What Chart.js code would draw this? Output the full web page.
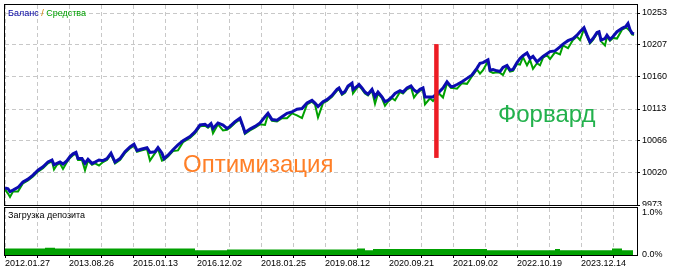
<!DOCTYPE html>
<html>
<head>
<meta charset="utf-8">
<script src="https://cdn.jsdelivr.net/npm/chart.js@4.4.1/dist/chart.umd.min.js"></script>
<style>
  body { margin: 0; background: #fff; }
  #wrap { position: relative; width: 682px; height: 272px; overflow: hidden; background: #fff; }
  canvas { position: absolute; left: 0; }
  #balanceChart { top: 0; }
  #loadChart { top: 205px; }
</style>
</head>
<body>
<div id="wrap">
  <canvas id="balanceChart" width="682" height="206"></canvas>
  <canvas id="loadChart" width="682" height="67"></canvas>
</div>
<script>
// trade number -> balance / equity
const trades = [0,3,5,8,13,18,23,28,33,38,
  43,47,49,52,55,58,62,65,68,71,
  73,77,80,83,87,90,94,98,102,106,
  110,115,120,125,129,132,137,142,145,150,
  153,157,159,163,168,173,178,185,190,195,
  200,203,206,208,213,218,222,225,230,235,
  238,240,245,250,255,260,263,267,272,277,
  282,287,292,297,302,307,310,313,318,322,
  327,332,334,337,340,343,347,348,352,354,
  357,360,363,367,370,373,377,380,383,387,
  390,395,398,402,406,409,412,415,418,420,
  425,428,434,438,442,446,448,452,457,462,
  467,472,475,478,483,485,488,492,495,498,
  502,505,508,512,515,518,522,525,528,532,
  535,538,542,545,550,555,558,563,568,572,
  575,579,582,585,588,592,594,596,600,602,
  605,608,612,617,621,623,625,627,629]

const balance = [9998,9997,9993,9995,9999,10007,10011,10017,10024,10029,
  10036,10039,10032,10034,10036,10033,10038,10044,10048,10050,
  10041,10041,10034,10040,10034,10036,10039,10038,10041,10049,
  10036,10041,10051,10058,10062,10053,10055,10057,10050,10051,
  10057,10049,10041,10046,10054,10061,10067,10073,10080,10090,
  10091,10088,10092,10085,10093,10090,10085,10088,10095,10100,
  10088,10079,10084,10088,10093,10102,10107,10098,10097,10102,
  10107,10109,10113,10114,10122,10126,10122,10117,10124,10127,
  10133,10142,10144,10136,10139,10147,10151,10142,10146,10149,
  10144,10138,10135,10142,10131,10138,10131,10124,10126,10131,
  10136,10140,10138,10144,10147,10141,10138,10142,10144,10131,
  10131,10131,10138,10144,10153,10146,10146,10149,10153,10158,
  10163,10173,10180,10181,10185,10170,10171,10169,10168,10174,
  10177,10170,10171,10181,10187,10191,10195,10187,10190,10182,
  10186,10190,10194,10197,10198,10204,10208,10213,10216,10221,
  10226,10232,10221,10211,10216,10225,10226,10214,10216,10221,
  10215,10219,10226,10231,10234,10238,10229,10224,10223]

const equity = [9996,9990,9985,9993,9993,10005,10009,10015,10022,10027,
  10034,10037,10025,10032,10034,10026,10036,10042,10046,10048,
  10039,10039,10024,10038,10032,10034,10031,10036,10039,10047,
  10034,10039,10049,10056,10060,10051,10053,10055,10038,10049,
  10055,10038,10039,10044,10052,10053,10065,10071,10078,10088,
  10089,10086,10090,10078,10091,10082,10083,10086,10093,10098,
  10086,10077,10082,10086,10091,10090,10105,10096,10095,10100,
  10100,10107,10104,10100,10120,10124,10120,10101,10122,10125,
  10131,10140,10142,10134,10137,10145,10149,10136,10144,10147,
  10142,10136,10133,10140,10121,10136,10129,10118,10124,10129,
  10126,10138,10136,10142,10145,10130,10136,10140,10142,10120,
  10129,10125,10136,10130,10151,10144,10144,10143,10151,10150,
  10161,10171,10165,10170,10183,10168,10166,10167,10166,10163,
  10175,10168,10169,10179,10178,10189,10177,10185,10172,10180,
  10177,10188,10192,10186,10196,10193,10206,10202,10214,10219,
  10214,10230,10219,10209,10214,10223,10224,10212,10206,10219,
  10213,10217,10216,10229,10232,10230,10227,10222,10221]

// deposit load, % (value holds from that trade on)
const loadTrades = [0,40,50,190,222,352,360,368,482,550,555,607,617,628]
const loadValues = [0.156,0.17,0.156,0.116,0.133,0.156,0.116,0.14,0.116,0.14,0.116,0.156,0.116,0.116]

// optimisation / forward split marker
const splitTrades = [431.4, 431.4]
const splitValues = [10042, 10208]

const yTickValues = [9973.33, 10020, 10066.67, 10113.33, 10160, 10206.67, 10253.33]
const yTickLabels = ['9973', '10020', '10066', '10113', '10160', '10207', '10253']
const xTickLabels = ['2012.01.27', '2013.08.26', '2015.01.13', '2016.12.02', '2018.01.25',
  '2019.08.12', '2020.09.21', '2021.09.02', '2022.10.19', '2023.12.14']
const loadTickValues = [0, 1]
const loadTickLabels = ['0.0%', '1.0%']

const FONT = "'Liberation Sans', Arial, sans-serif"
Chart.defaults.font.family = FONT
Chart.defaults.font.size = 9
Chart.defaults.color = '#000'
Chart.defaults.animation = false

const toPoints = (xs, ys) => xs.map((x, i) => ({x, y: ys[i]}))

const gridColor = '#c8c8c8'
const gridDash = [4, 3]

const frame = {
    id: 'frame',
    afterDraw (chart) {
        const {ctx, chartArea: {left, top, right, bottom}} = chart
        ctx.save()
        ctx.strokeStyle = '#000'
        ctx.lineWidth = 1
        ctx.strokeRect(left - 0.5, top - 0.5, right - left + 1, bottom - top + 1)
        ctx.restore()
    }
}

const captions = {
    id: 'captions',
    afterDraw (chart) {
        const {ctx, scales: {x, y}} = chart
        ctx.save()
        ctx.font = `9px ${FONT}`
        ctx.textBaseline = 'middle'
        let px = 8
        for (const [txt, col] of [['Баланс', '#0000a0'], [' / ', '#d08000'], ['Средства', '#00a000']]) {
            ctx.fillStyle = col
            ctx.fillText(txt, px, 13.5)
            px += ctx.measureText(txt).width
        }
        ctx.font = `24px ${FONT}`
        ctx.textBaseline = 'alphabetic'
        ctx.fillStyle = '#ff7f27'
        ctx.fillText('Оптимизация', x.getPixelForValue(178), y.getPixelForValue(10021.5))
        ctx.fillStyle = '#22b14c'
        ctx.fillText('Форвард', x.getPixelForValue(493), y.getPixelForValue(10094.8))
        ctx.restore()
    }
}

const loadCaption = {
    id: 'loadCaption',
    afterDraw (chart) {
        const {ctx} = chart
        ctx.save()
        ctx.font = `9px ${FONT}`
        ctx.textBaseline = 'middle'
        ctx.fillStyle = '#000'
        ctx.fillText('Загрузка депозита', 8, 10.5)
        ctx.restore()
    }
}

new Chart(document.getElementById('balanceChart'), {
    type: 'line',
    data: {
        datasets: [
            {data: toPoints(splitTrades, splitValues), borderColor: '#ed1c24', borderWidth: 4.5, borderCapStyle: 'butt', order: 0},
            {data: toPoints(trades, balance), borderColor: '#0c0cb0', borderWidth: 3, order: 1},
            {data: toPoints(trades, equity), borderColor: '#00a000', borderWidth: 2, order: 2}
        ]
    },
    options: {
        responsive: false,
        events: [],
        layout: {padding: {left: 5, top: 5, right: 0, bottom: 0}},
        elements: {point: {radius: 0}, line: {tension: 0}},
        plugins: {legend: {display: false}, tooltip: {enabled: false}},
        scales: {
            x: {
                type: 'linear', min: 0, max: 632,
                ticks: {display: false, stepSize: 32, includeBounds: false},
                grid: {color: gridColor, drawTicks: false},
                border: {display: false, dash: gridDash},
                afterFit (s) { s.height = 1; s.paddingLeft = 0; s.paddingRight = 0 }
            },
            y: {
                position: 'right', min: 9973.33, max: 10265,
                afterBuildTicks (s) { s.ticks = yTickValues.map(v => ({value: v})) },
                ticks: {callback: (v, i) => yTickLabels[i], padding: 2, autoSkip: false},
                grid: {color: gridColor, tickColor: '#000', tickLength: 3},
                border: {display: false, dash: gridDash},
                afterFit (s) { s.width = 45; s.paddingTop = 0; s.paddingBottom = 0 }
            }
        }
    },
    plugins: [frame, captions]
})

new Chart(document.getElementById('loadChart'), {
    type: 'line',
    data: {
        datasets: [{
            data: toPoints(loadTrades, loadValues),
            stepped: 'before',
            fill: 'origin',
            backgroundColor: '#00a000',
            borderColor: '#00a000',
            borderWidth: 0
        }]
    },
    options: {
        responsive: false,
        events: [],
        layout: {padding: {left: 5, top: 3, right: 0, bottom: 0}},
        elements: {point: {radius: 0}},
        plugins: {legend: {display: false}, tooltip: {enabled: false}},
        scales: {
            x: {
                type: 'linear', min: 0, max: 632,
                ticks: {
                    stepSize: 32, includeBounds: false, autoSkip: false, maxRotation: 0,
                    align: 'start', padding: 0,
                    callback: (v, i) => (i % 2 ? '' : xTickLabels[i / 2])
                },
                grid: {color: gridColor, tickColor: '#000', tickLength: 3},
                border: {display: false, dash: gridDash},
                afterFit (s) { s.height = 17; s.paddingLeft = 0; s.paddingRight = 0 }
            },
            y: {
                position: 'right', min: 0, max: 1.119,
                afterBuildTicks (s) { s.ticks = loadTickValues.map(v => ({value: v})) },
                ticks: {callback: (v, i) => loadTickLabels[i], padding: 5},
                grid: {display: false, drawTicks: false},
                border: {display: false},
                afterFit (s) { s.width = 45; s.paddingTop = 0; s.paddingBottom = 0 }
            }
        }
    },
    plugins: [frame, loadCaption]
})
</script>
</body>
</html>
